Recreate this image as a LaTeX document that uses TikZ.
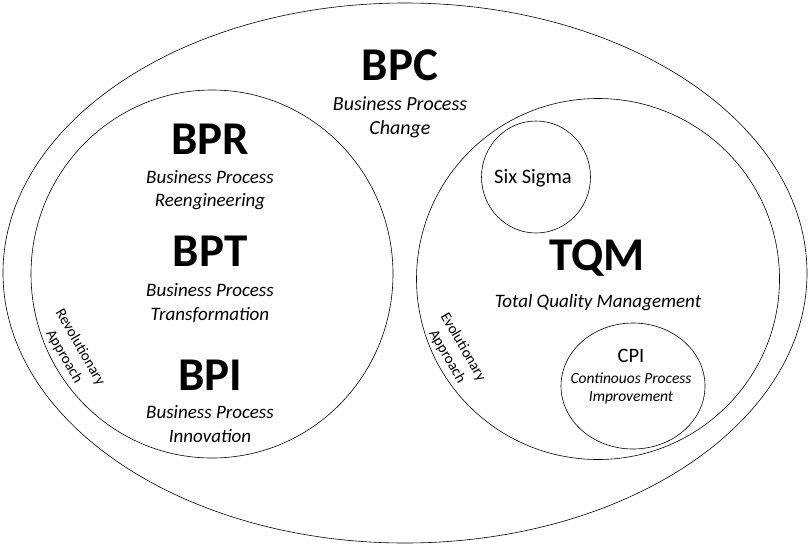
\documentclass[tikz,border=0pt]{standalone}
\usepackage{fontspec}
\setmainfont{Carlito}
\usetikzlibrary{shapes.geometric,positioning}

\begin{document}
\begin{tikzpicture}[
      x=1pt, y=-1pt,
      ring/.style={draw, ellipse, line width=0.6pt, inner sep=0pt},
      title/.style={font=\fontsize{47}{50}\selectfont\bfseries, inner sep=0pt},
      sub/.style={align=center, font=\fontsize{19}{23.5}\selectfont\itshape, inner sep=0pt},
      small/.style={align=center, font=\fontsize{15.5}{18}\selectfont\itshape, inner sep=0pt},
      label/.style={align=center, font=\fontsize{20.5}{22}\selectfont, inner sep=0pt},
      approach/.style={align=center, font=\fontsize{15}{18.5}\selectfont, rotate=-60, inner sep=0pt}
    ]
      \useasboundingbox (0,0) rectangle (810,546);

      % circles
      \node[ring, minimum width=804, minimum height=540] (bpc) at (405,273) {};
      \node[ring, minimum width=362, minimum height=368] (rev) at (212,274) {};
      \node[ring, minimum width=363, minimum height=361] (evo) at (598,279) {};
      \node[ring, minimum width=109, minimum height=112] (six) at (536,177) {};
      \node[ring, minimum width=144, minimum height=126] (cpi) at (633,386) {};

      % outer
      \node[title] (bpct) at (400,65) {BPC};
      \node[sub, font=\fontsize{20}{24}\selectfont\itshape] (bpcs) at (400,117) {Business Process\\Change};

      % revolutionary side
      \node[title] (bprt) at (210,139) {BPR};
      \node[sub] (bprs) at (210,190) {Business Process\\Reengineering};
      \node[title] (bptt) at (210,251) {BPT};
      \node[sub] (bpts) at (210,303) {Business Process\\Transformation};
      \node[title] (bpit) at (210,375) {BPI};
      \node[sub] (bpis) at (210,424) {Business Process\\Innovation};
      \node[approach] (revl) at (72,352) {Revolutionary\\Approach};

      % evolutionary side
      \node[label] (sixl) at (533,178) {Six Sigma};
      \node[title] (tqmt) at (597,258) {TQM};
      \node[sub] (tqms) at (598,303) {Total Quality Management};
      \node[label] (cpit) at (631,356) {CPI};
      \node[small] (cpis) at (631,388) {Continouos Process\\Improvement};
      \node[approach] (evol) at (455,352) {Evolutionary\\Approach};
    \end{tikzpicture}
\end{document}
